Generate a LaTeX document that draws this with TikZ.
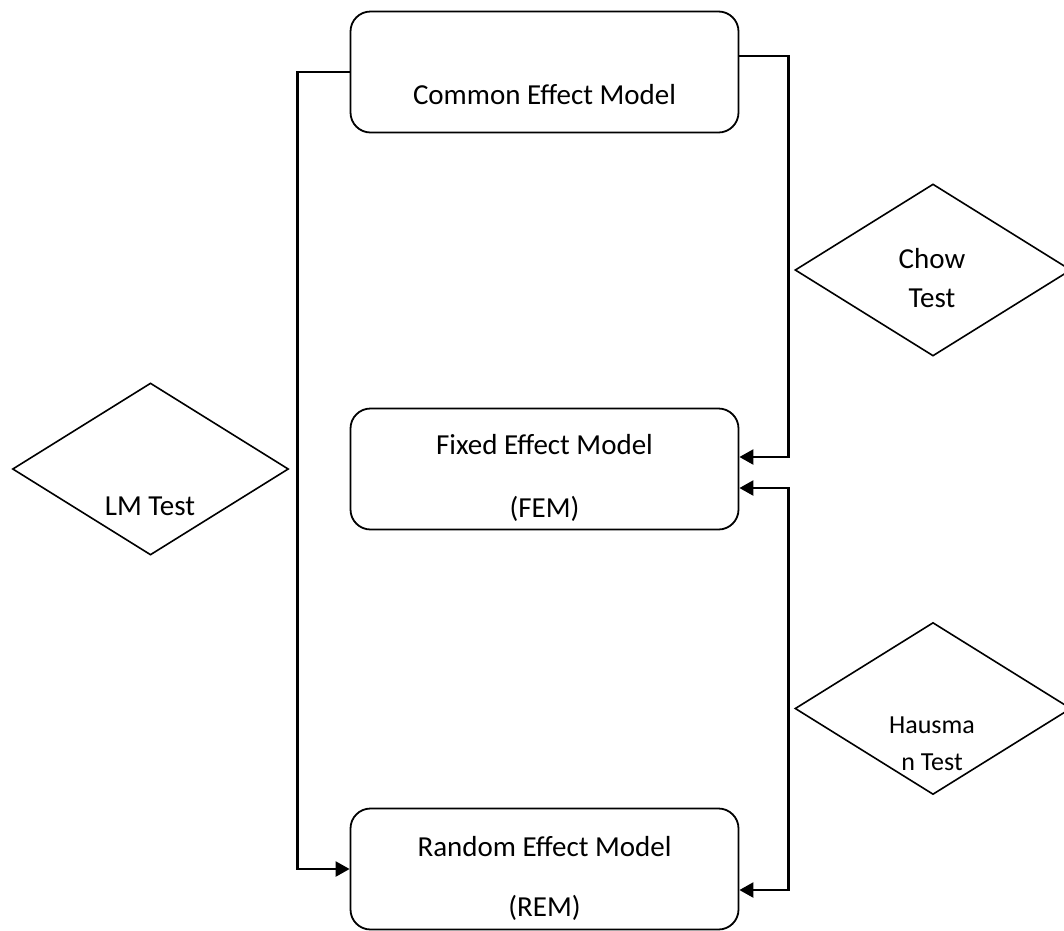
\documentclass[tikz,border=0pt]{standalone}
\usepackage{fontspec}
\setmainfont{Carlito}
\usetikzlibrary{shapes.geometric,arrows.meta}
\begin{document}
\begin{tikzpicture}[x=1pt,y=-1pt,
  modelbox/.style={draw=black,line width=1.8pt,rounded corners=20pt,minimum width=388pt,minimum height=121pt,inner sep=0pt},
  testshape/.style={draw=black,line width=1.6pt,shape=diamond,minimum width=276pt,minimum height=172pt,inner sep=0pt},
  lbl/.style={font=\fontsize{29}{34}\selectfont,inner sep=0pt},
  smalllbl/.style={font=\fontsize{26}{31}\selectfont,inner sep=0pt},
  conn/.style={line width=2.4pt,-{Triangle[length=14pt,width=15pt]}},
  connb/.style={line width=2.4pt,{Triangle[length=14pt,width=15pt]}-{Triangle[length=14pt,width=15pt]}}]
\useasboundingbox (0,0) rectangle (1064,930);
\fill[white] (0,0) rectangle (1064,930);
% boxes
\node[modelbox] (cem) at (544.5,72) {};
\node[modelbox] (fem) at (544.5,469) {};
\node[modelbox] (rem) at (544.5,869) {};
\node[lbl] (cemt) at (544.5,95) {Common Effect Model};
\node[lbl] (femt1) at (544.5,445) {Fixed Effect Model};
\node[lbl] (femt2) at (544.5,509) {(FEM)};
\node[lbl] (remt1) at (544.5,847) {Random Effect Model};
\node[lbl] (remt2) at (544.5,908) {(REM)};
% diamonds
\node[testshape] (chow) at (933,270) {};
\node[testshape] (lm) at (150.5,469) {};
\node[testshape] (haus) at (933,708.5) {};
\node[lbl] (chowt1) at (932,259) {Chow};
\node[lbl] (chowt2) at (932,298) {Test};
\node[lbl] (lmt) at (150,506) {LM Test};
\node[smalllbl] (haust1) at (932,725) {Hausma};
\node[smalllbl] (haust2) at (932,762) {n Test};
% connectors
\draw[conn] (cem.west) -- ++(-52,0) |- (rem.west);
\draw[conn] ([yshift=16pt]cem.east) -- ++(49,0) |- ([yshift=12pt]fem.east);
\draw[connb] ([yshift=-19pt]fem.east) -- ++(49,0) |- ([yshift=-21pt]rem.east);
\end{tikzpicture}
\end{document}
